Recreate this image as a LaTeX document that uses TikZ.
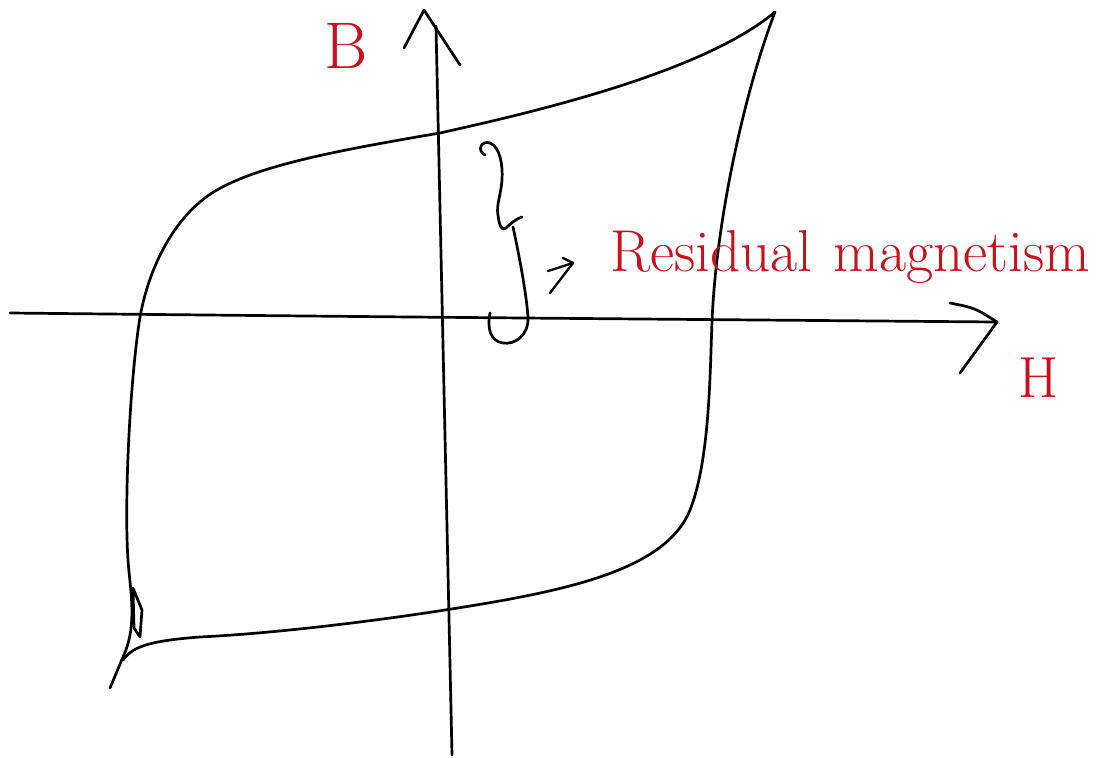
\documentclass[tikz,border=0pt]{standalone}
\usepackage{graphicx}
\begin{document}
\begin{tikzpicture}[x=1pt,y=-1pt,
  ink/.style={line width=2.7pt, line cap=round, line join=round},
  lab/.style={text=labred, inner sep=0pt}]
\definecolor{labred}{RGB}{200,16,30}
\useasboundingbox (0,0) rectangle (1109,758);
\fill[white] (0,0) rectangle (1109,758);
% axes
\coordinate (hL) at (10,313);
\coordinate (hR) at (997,322);
\coordinate (hU) at (950,303);
\coordinate (hD) at (960,373);
\draw[ink] (hL) .. controls (400,317) .. (hR);
\draw[ink] (hU) .. controls (975,308) .. (hR) -- (hD);
\coordinate (vB) at (452,755);
\coordinate (vT) at (436,26);
\coordinate (vA) at (424,10);
\coordinate (vLa) at (404,48);
\coordinate (vRa) at (460,65);
\draw[ink] (vB) -- (vT);
\draw[ink] (vLa) -- (vA) -- (vRa);
% hysteresis loop
\coordinate (tipTR) at (775,12);
\coordinate (tipBL) at (110,688);
\draw[ink] (tipTR) .. controls (700,75) and (520,115) .. (440,133)
  .. controls (340,150) and (260,165) .. (217,190)
  .. controls (178,212) and (150,262) .. (140,317)
  .. controls (130,380) and (124,500) .. (128,560)
  .. controls (130,590) and (138,625) .. (123,657)
  -- (tipBL);
\draw[ink] (123,660) .. controls (132,648) and (145,641) .. (200,637)
  .. controls (300,632) and (420,614) .. (445,610)
  .. controls (560,592) and (665,572) .. (690,510)
  .. controls (710,460) and (710,370) .. (712,322)
  .. controls (716,220) and (745,90) .. (tipTR);
\draw[ink] (133,588) -- (142,610) -- (140,637) -- (134,628) -- cycle;
% brace
\draw[ink] (485,155) .. controls (476,150) and (482,140) .. (490,143)
  .. controls (500,147) and (503,165) .. (502,180)
  .. controls (501,195) and (496,205) .. (498,215)
  .. controls (499,225) and (502,232) .. (506,228)
  .. controls (512,222) and (518,218) .. (522,217);
\draw[ink] (513,227) .. controls (518,250) and (526,290) .. (528,317)
  .. controls (529,335) and (515,345) .. (503,343)
  .. controls (490,341) and (487,328) .. (490,313);
% small arrow
\coordinate (aS) at (548,271);
\coordinate (aE) at (573,263);
\draw[ink, line width=2.3pt] (aS) -- (aE);
\draw[ink, line width=2.3pt] (563,258) -- (aE) -- (550,293);
% labels
\node[lab, anchor=south west] (res) at (610,284)
  {\resizebox{480pt}{!}{\fontsize{60}{60}\selectfont Residual\hspace{0.35em}magnetism}};
\node[lab] (B) at (346,46) {\fontsize{66}{66}\selectfont B};
\node[lab] (H) at (1039,378) {\fontsize{58}{58}\selectfont H};
\end{tikzpicture}
\end{document}
